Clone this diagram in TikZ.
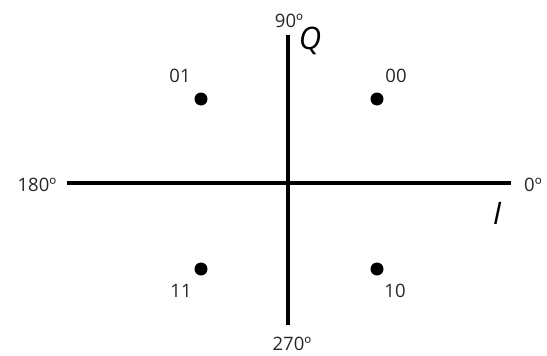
\documentclass[tikz,border=0pt]{standalone}
\usepackage{fontspec}
\setmainfont{Open Sans}
\begin{document}
\begin{tikzpicture}[x=1pt,y=-1pt,
  axis/.style={line width=3.5pt},
  dot/.style={circle,fill=black,inner sep=0pt,minimum size=13pt},
  lbl/.style={font=\fontsize{18.5}{22}\selectfont,text=black!85,inner sep=0pt},
  axlbl/.style={font=\fontsize{31}{36}\selectfont\itshape,inner sep=0pt}]
\useasboundingbox (0,0) rectangle (547,356);
\coordinate (top) at (288,35);
\coordinate (bot) at (288,325);
\coordinate (left) at (67,183);
\coordinate (right) at (511,183);
\draw[axis] (top) -- (bot);
\draw[axis] (left) -- (right);
\node[dot] (p01) at (201,99) {};
\node[dot] (p00) at (377,99) {};
\node[dot] (p11) at (201,269) {};
\node[dot] (p10) at (377,269) {};
\node[lbl] (l01) at (180,76) {01};
\node[lbl] (l00) at (396,76) {00};
\node[lbl] (l11) at (181,291) {11};
\node[lbl] (l10) at (395,291) {10};
\node[lbl] (a90) at (289,21) {90º};
\node[lbl] (a180) at (37,185) {180º};
\node[lbl] (a0) at (533,185) {0º};
\node[lbl] (a270) at (292,344) {270º};
\node[axlbl] (Q) at (310,41) {Q};
\node[axlbl] (I) at (497,213) {I};
\end{tikzpicture}
\end{document}
